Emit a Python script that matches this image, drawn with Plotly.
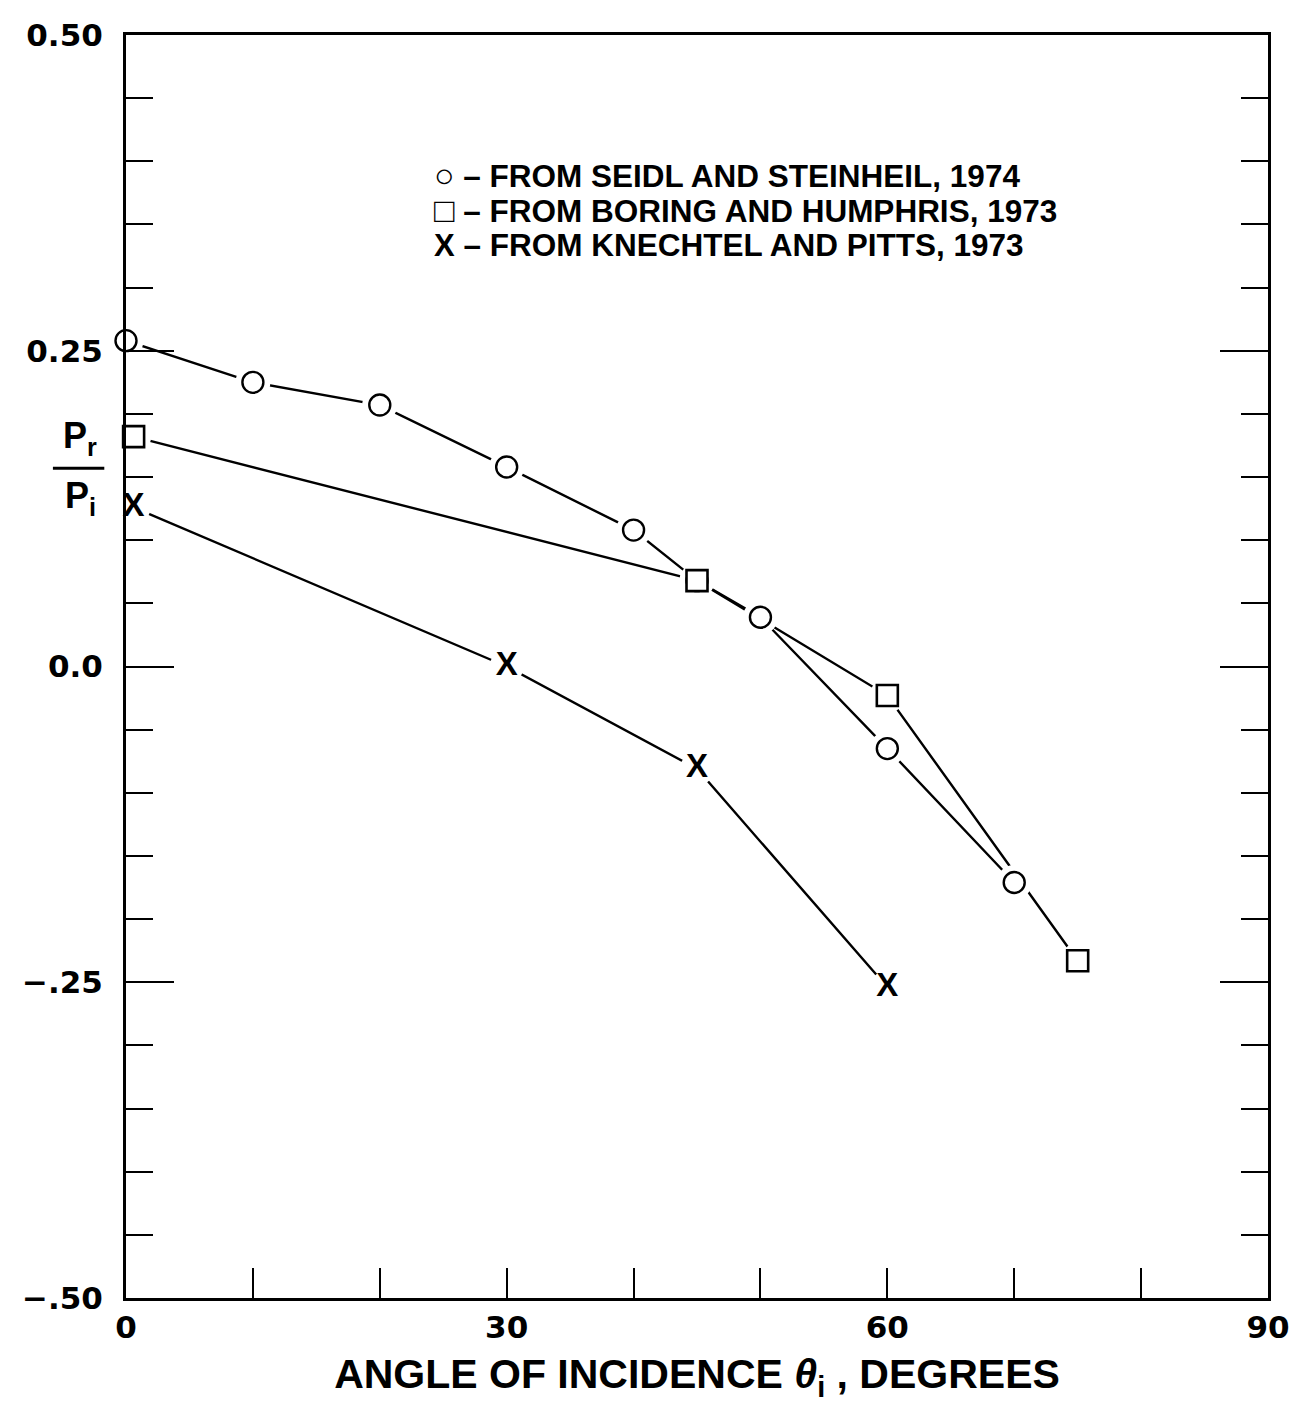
import plotly.graph_objects as go

# ---- data ----
seidl_angle = [0, 10, 20, 30, 40, 45, 50, 60, 70]
seidl_ratio = [0.258, 0.225, 0.207, 0.158, 0.108, 0.068, 0.039, -0.065, -0.171]

boring_angle = [0.6, 45, 60, 75]
boring_ratio = [0.182, 0.068, -0.023, -0.233]

knechtel_angle = [0.6, 30, 45, 60]
knechtel_ratio = [0.126, 0.0, -0.081, -0.254]

legend_symbols = ["○", "□", "X"]
legend_texts = [
    " – FROM SEIDL AND STEINHEIL, 1974",
    " – FROM BORING AND HUMPHRIS, 1973",
    " – FROM KNECHTEL AND PITTS, 1973",
]

y_tick_vals = [0.5, 0.25, 0.0, -0.25, -0.5]
y_tick_text = ["0.50", "0.25", "0.0", "\u2212.25", "\u2212.50"]
x_tick_vals = [0, 30, 60, 90]
x_tick_text = ["0", "30", "60", "90"]

fig = go.Figure()

series = [
    (seidl_angle, seidl_ratio, 21),
    (boring_angle, boring_ratio, 21),
    (knechtel_angle, knechtel_ratio, 20),
]

# connecting lines
for xs, ys, sz in series:
    fig.add_trace(go.Scatter(x=xs, y=ys, mode="lines",
                             line=dict(color="black", width=2.4),
                             hoverinfo="skip", showlegend=False, cliponaxis=False))
# white halos to give the small gaps around each symbol
for xs, ys, sz in series:
    fig.add_trace(go.Scatter(x=xs, y=ys, mode="markers",
                             marker=dict(symbol="circle", size=sz + 14, color="white",
                                         line=dict(width=0)),
                             hoverinfo="skip", showlegend=False, cliponaxis=False))
# the symbols
fig.add_trace(go.Scatter(x=seidl_angle, y=seidl_ratio, mode="markers", name="Seidl and Steinheil, 1974",
                         marker=dict(symbol="circle", size=21, color="white",
                                     line=dict(color="black", width=2.4)),
                         showlegend=False, cliponaxis=False))
fig.add_trace(go.Scatter(x=boring_angle, y=boring_ratio, mode="markers", name="Boring and Humphris, 1973",
                         marker=dict(symbol="square", size=21, color="white",
                                     line=dict(color="black", width=2.6)),
                         showlegend=False, cliponaxis=False))
fig.add_trace(go.Scatter(x=knechtel_angle, y=knechtel_ratio, mode="text", name="Knechtel and Pitts, 1973",
                         text=["<b>X</b>"] * len(knechtel_angle), textposition="middle center",
                         textfont=dict(family="Liberation Sans", size=33, color="black"),
                         showlegend=False, cliponaxis=False))

tick_font = dict(family="DejaVu Sans", size=31, color="black", weight="bold")

fig.update_xaxes(
    range=[0, 90], tickmode="array", tickvals=x_tick_vals, ticktext=x_tick_text,
    ticks="inside", ticklen=30, tickwidth=2.4, tickcolor="black",
    minor=dict(dtick=10, ticks="inside", ticklen=30, tickwidth=2.4, tickcolor="black"),
    showline=True, linecolor="black", linewidth=3, mirror=True,
    showgrid=False, zeroline=False, tickfont=tick_font, automargin=False,
    title=dict(text="ANGLE OF INCIDENCE <i>θ</i><sub>i</sub> , DEGREES",
               font=dict(family="Liberation Sans", size=41, color="black", weight="bold"),
               standoff=16),
)
fig.update_yaxes(
    range=[-0.5, 0.5], tickmode="array", tickvals=y_tick_vals, ticktext=y_tick_text,
    ticks="inside", ticklen=48, tickwidth=2.4, tickcolor="black",
    minor=dict(dtick=0.05, ticks="inside", ticklen=27, tickwidth=2.4, tickcolor="black"),
    showline=True, linecolor="black", linewidth=3, mirror="ticks",
    showgrid=False, zeroline=False, tickfont=tick_font, ticklabelstandoff=14, automargin=False,
)

annotations = []
for i, (s, t) in enumerate(zip(legend_symbols, legend_texts)):
    annotations.append(dict(
        x=0.268, y=0.889 - i * 0.0275, xref="paper", yref="paper",
        xanchor="left", yanchor="middle", showarrow=False,
        text=f"<span style='font-size:{34 if i < 2 else 31}px'>{s}</span>{t}",
        font=dict(family="Liberation Sans", size=31.5, color="black", weight="bold")))

# y-axis label as a fraction P_r / P_i
frac_y = 0.657
annotations.append(dict(x=-0.04, y=frac_y + 0.004, xref="paper", yref="paper", showarrow=False,
                        text="P<sub>r</sub>", xanchor="center", yanchor="bottom",
                        font=dict(family="Liberation Sans", size=36, color="black", weight="bold")))
annotations.append(dict(x=-0.04, y=frac_y - 0.004, xref="paper", yref="paper", showarrow=False,
                        text="P<sub>i</sub>", xanchor="center", yanchor="top",
                        font=dict(family="Liberation Sans", size=36, color="black", weight="bold")))

fig.update_layout(
    width=1313, height=1403,
    margin=dict(l=118, r=53, t=27, b=113),
    paper_bgcolor="white", plot_bgcolor="white",
    annotations=annotations,
    shapes=[dict(type="line", xref="paper", yref="paper",
                 x0=-0.064, x1=-0.019, y0=frac_y, y1=frac_y,
                 line=dict(color="black", width=3))],
)

fig.write_html("out.html")
